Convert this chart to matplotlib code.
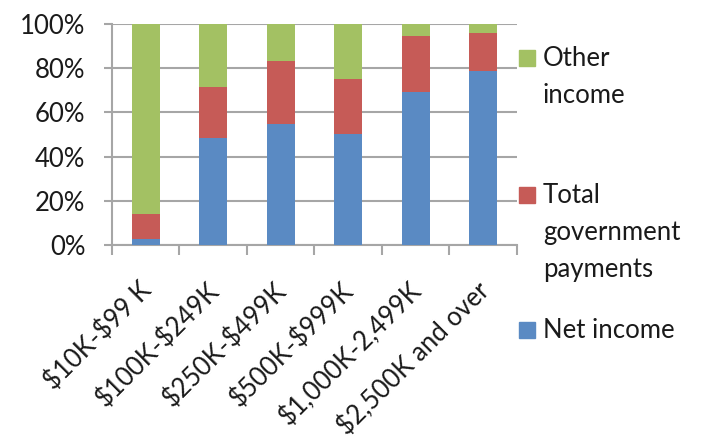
import matplotlib
matplotlib.use("Agg")
import matplotlib.pyplot as plt
from matplotlib.patches import Rectangle
import matplotlib.transforms as mtransforms
import numpy as np

# income classes and share of each income source (%)
categories = ["$10K-$99 K", "$100K-$249K", "$250K-$499K", "$500K-$999K",
              "$1,000K-2,499K", "$2,500K and over"]
net_income = [2.7, 48.3, 54.9, 50.2, 69.4, 78.6]
gov_payments = [11.2, 23.0, 28.4, 25.1, 25.0, 17.2]
other_income = [86.1, 28.7, 16.7, 24.7, 5.6, 4.2]

blue = "#5A8AC3"
red = "#C65B57"
green = "#A3C163"
grid_col = "#A6A6A6"
txt_col = "#1a1a1a"

plt.rcParams["font.family"] = ["Lato", "DejaVu Sans"]
plt.rcParams["font.size"] = 18.5

fig = plt.figure(figsize=(7.11, 4.44), dpi=100)
ax = fig.add_axes([0.1575, 0.448, 0.5695, 0.498])

x = np.arange(len(categories))
w = 0.41
ax.bar(x, net_income, w, color=blue, zorder=3)
ax.bar(x, gov_payments, w, bottom=net_income, color=red, zorder=3)
bottom2 = np.array(net_income) + np.array(gov_payments)
ax.bar(x, other_income, w, bottom=bottom2, color=green, zorder=3)

ax.set_xlim(-0.5, len(categories) - 0.5)
ax.set_ylim(0, 100)
ax.set_yticks(range(0, 101, 20))
ax.set_yticklabels([f"{v}%" for v in range(0, 101, 20)], color=txt_col)
ax.yaxis.grid(True, color=grid_col, linewidth=1.5, zorder=0)

# category boundary ticks
ax.set_xticks(np.arange(-0.5, len(categories), 1.0))
ax.set_xticklabels([])
ax.tick_params(axis="x", which="major", length=7, width=1.5, color=grid_col)
ax.tick_params(axis="y", length=6, width=1.5, color=grid_col, pad=13)

# category names, escaped so the dollar signs are not read as math
ax.set_xticks(x, minor=True)
ax.set_xticklabels([c.replace("$", r"\$") for c in categories], minor=True,
                   rotation=45, ha="right", va="center",
                   rotation_mode="anchor", color=txt_col)
ax.tick_params(axis="x", which="minor", length=0, pad=30)
offset = mtransforms.ScaledTranslation(2 / 100, 0, fig.dpi_scale_trans)
for lbl in ax.get_xticklabels(minor=True):
    lbl.set_transform(lbl.get_transform() + offset)

for s in ["top", "right"]:
    ax.spines[s].set_visible(False)
for s in ["left", "bottom"]:
    ax.spines[s].set_color(grid_col)
    ax.spines[s].set_linewidth(1.5)

# legend, drawn by hand to match the spacing (pixel baselines)
W, H = 711, 444
entries = [(["Other", "income"], green, 66),
           (["Total", "government", "payments"], red, 203),
           (["Net income"], blue, 338)]
for lines, col, base in entries:
    fig.add_artist(Rectangle((519 / W, 1 - base / H), 16 / W, 16 / H,
                             transform=fig.transFigure, color=col))
    for i, line in enumerate(lines):
        fig.text(543 / W, 1 - (base + 37 * i) / H, line, va="baseline",
                 ha="left", color=txt_col)

fig.savefig("out.png", dpi=100)
